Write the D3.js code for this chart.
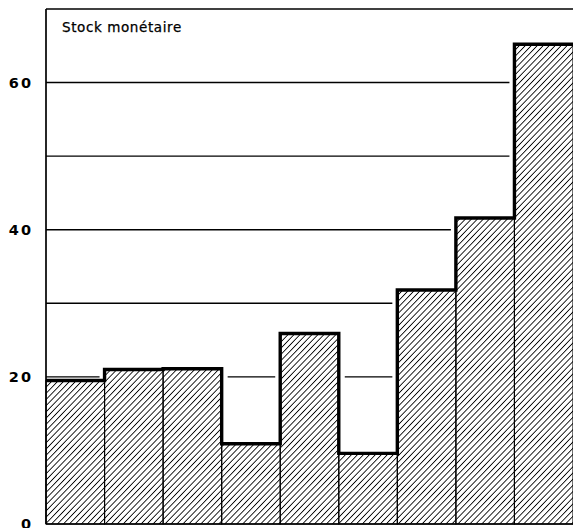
<!DOCTYPE html>
<html>
<head>
<meta charset="utf-8">
<script src="https://cdn.jsdelivr.net/npm/d3@7"></script>
<style>
  body { margin: 0; background: #fff; }
  svg { display: block; }
</style>
</head>
<body>
<svg width="573" height="528"></svg>
<script>
// values (one bar per period)
var periods = ["p1", "p2", "p3", "p4", "p5", "p6", "p7", "p8", "p9"];
var stock = [19.5, 21.0, 21.1, 10.9, 25.9, 9.6, 31.8, 41.6, 65.2];
var gridValues = [20, 30, 40, 50, 60];
var tickValues = [0, 20, 40, 60];
var title = "Stock monétaire";

var svg = d3.select("svg"),
    margin = {top: 9, right: 0, bottom: 4, left: 46},
    width = +svg.attr("width") - margin.left - margin.right,
    height = +svg.attr("height") - margin.top - margin.bottom,
    g = svg.append("g").attr("transform", "translate(" + margin.left + "," + margin.top + ")");

var x = d3.scaleBand()
    .domain(periods)
    .range([0, width])
    .padding(0);

var y = d3.scaleLinear()
    .domain([0, 70])
    .range([height, 0]);

// hatching
var pat = svg.append("defs").append("pattern")
    .attr("id", "hatch")
    .attr("patternUnits", "userSpaceOnUse")
    .attr("width", 4.3)
    .attr("height", 4.3)
    .attr("patternTransform", "rotate(44)");
pat.append("line")
    .attr("x1", 0).attr("y1", 0)
    .attr("x2", 0).attr("y2", 4.3)
    .attr("stroke", "#000")
    .attr("stroke-width", 1.7);

// gridlines, only drawn over empty space, stopping short of the bars
gridValues.forEach(function(v) {
  var segs = [], start = null;
  periods.forEach(function(p, i) {
    if (stock[i] < v) {
      if (start === null) start = x(p);
    } else if (start !== null) {
      segs.push([start, x(p)]);
      start = null;
    }
  });
  if (start !== null) segs.push([start, width]);
  segs.forEach(function(s) {
    var x1 = s[0] === 0 ? 0 : s[0] + 6,
        x2 = s[1] >= width ? width : s[1] - 5;
    g.append("line")
        .attr("x1", x1).attr("x2", x2)
        .attr("y1", y(v)).attr("y2", y(v))
        .attr("stroke", "#000")
        .attr("stroke-width", 1.4);
  });
});

// bars
g.selectAll(".bar")
  .data(stock)
  .enter().append("rect")
    .attr("class", "bar")
    .attr("x", function(d, i) { return x(periods[i]); })
    .attr("y", function(d) { return y(d); })
    .attr("width", x.bandwidth())
    .attr("height", function(d) { return y(0) - y(d); })
    .attr("fill", "url(#hatch)")
    .attr("stroke", "#000")
    .attr("stroke-width", 1.1);

// thick step outline
var step = [];
stock.forEach(function(d, i) {
  step.push([x(periods[i]), y(d)]);
  step.push([x(periods[i]) + x.bandwidth(), y(d)]);
});
g.append("path")
    .attr("d", d3.line()(step))
    .attr("fill", "none")
    .attr("stroke", "#000")
    .attr("stroke-width", 3.4)
    .attr("stroke-linejoin", "miter");

// frame: top border, left axis, baseline
g.append("line")
    .attr("x1", 0).attr("x2", width)
    .attr("y1", y(70)).attr("y2", y(70))
    .attr("stroke", "#000").attr("stroke-width", 1.5);
g.append("line")
    .attr("x1", 0).attr("x2", 0)
    .attr("y1", y(70)).attr("y2", y(0))
    .attr("stroke", "#000").attr("stroke-width", 1.7);
g.append("line")
    .attr("x1", 0).attr("x2", width)
    .attr("y1", y(0)).attr("y2", y(0))
    .attr("stroke", "#000").attr("stroke-width", 1.3);

// y labels
g.append("g")
    .call(d3.axisLeft(y).tickValues(tickValues).tickSize(0).tickPadding(13))
    .call(function(a) { a.select(".domain").remove(); })
    .selectAll("text")
    .attr("font-family", "DejaVu Sans")
    .attr("font-weight", "bold")
    .attr("font-size", 14.5)
    .attr("letter-spacing", 2)
    .attr("fill", "#000");

g.append("text")
    .attr("x", 16)
    .attr("y", 23)
    .attr("font-family", "DejaVu Sans")
    .attr("font-size", 13.5)
    .attr("letter-spacing", 0.6)
    .attr("stroke", "#000")
    .attr("stroke-width", 0.25)
    .text(title);
</script>
</body>
</html>
